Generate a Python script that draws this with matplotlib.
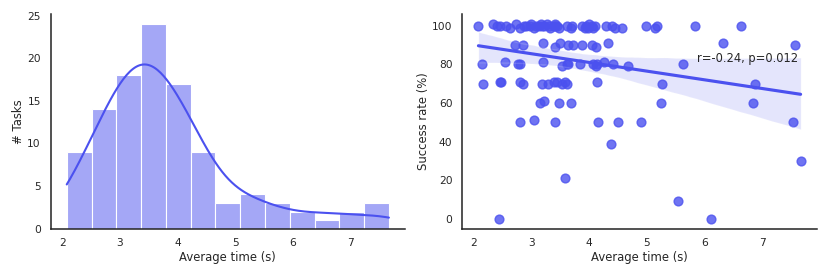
import matplotlib
matplotlib.use("Agg")
import matplotlib.pyplot as plt
import numpy as np
import seaborn as sns

# ---- data ----
top_times = [2.08, 2.33, 2.40, 2.45,
             2.55, 2.62, 2.73, 2.80, 2.87, 2.91,
             2.97, 3.00, 3.05, 3.08, 3.13, 3.17, 3.19, 3.22, 3.27, 3.30, 3.33,
             3.39, 3.40, 3.41, 3.45, 3.47, 3.62, 3.68, 3.70,
             3.87, 3.93, 3.95, 3.98, 4.00, 4.05, 4.07, 4.10,
             4.30, 4.40, 4.45, 4.57,
             4.99, 5.15, 5.18, 5.83, 6.64]
top_success = [100, 101, 100, 100,
               100, 99, 101, 99, 100, 100,
               100, 101, 99, 100, 100, 101, 100, 100, 101, 100, 99,
               100, 101, 100, 100, 99, 100, 99, 100,
               100, 99, 100, 99, 101, 100, 99, 100,
               100, 100, 99, 99,
               100, 99, 100, 100, 100]

row90_times = [2.71, 2.85, 3.20, 3.41, 3.50, 3.63, 3.72, 3.87, 4.05, 4.12, 4.33, 6.33, 7.58]
row90_success = [90, 90, 91, 89, 91, 90, 90, 90, 90, 89, 91, 91, 90]

row80_times = [2.14, 2.54, 2.77, 2.80, 3.20, 3.53, 3.62, 3.64, 3.84, 4.07, 4.12, 4.14, 4.26, 4.42, 4.68, 5.63]
row80_success = [80, 81, 80, 80, 81, 79, 80, 80, 80, 80, 79, 80, 81, 80, 79, 80]

row70_times = [2.16, 2.45, 2.48, 2.80, 2.85, 3.18, 3.29, 3.39, 3.44, 3.53, 3.58, 3.62, 4.14, 5.27, 6.87]
row70_success = [70, 71, 71, 71, 70, 70, 70, 71, 71, 70, 71, 70, 71, 70, 70]

row60_times = [3.15, 3.22, 3.48, 3.69, 5.25, 6.84]
row60_success = [60, 61, 60, 60, 60, 60]

row50_times = [2.80, 3.04, 3.41, 4.16, 4.50, 4.90, 7.53]
row50_success = [50, 51, 50, 50, 50, 50, 50]

other_times = [4.38, 3.58, 2.43, 5.55, 6.12, 7.67]
other_success = [39, 21, 0, 9, 0, 30]

times = np.array(top_times + row90_times + row80_times + row70_times
                 + row60_times + row50_times + other_times)
success = np.array(top_success + row90_success + row80_success + row70_success
                   + row60_success + row50_success + other_success)

annotation = "r=-0.24, p=0.012"
BASE = "#4b51ef"

# ---- plot ----
sns.set_style("white")
plt.rcParams["font.family"] = ["DejaVu Sans"]
plt.rcParams["font.size"] = 8.4
plt.rcParams["axes.labelsize"] = 8.4
plt.rcParams["xtick.labelsize"] = 7.7
plt.rcParams["ytick.labelsize"] = 7.7

fig = plt.figure(figsize=(8.3, 2.77), dpi=100)
ax1 = fig.add_axes([0.061, 0.175, 0.427, 0.774])
ax2 = fig.add_axes([0.557, 0.175, 0.427, 0.774])

sns.histplot(x=times, bins=13, kde=True, color=BASE, alpha=0.5,
             edgecolor="white", linewidth=0.8, ax=ax1)
ax1.set_xlabel("Average time (s)", labelpad=2)
ax1.set_ylabel("# Tasks", labelpad=1.5)

sns.regplot(x=times, y=success, color=BASE, ax=ax2, seed=0,
            scatter_kws=dict(s=40))
ax2.set_xlabel("Average time (s)", labelpad=2)
ax2.set_ylabel("Success rate (%)", labelpad=1.5)
ax2.set_yticks([0, 20, 40, 60, 80, 100])
ax2.text(5.87, 83.3, annotation, va="center", ha="left", fontsize=8.3)

for ax in (ax1, ax2):
    ax.set_xticks([2, 3, 4, 5, 6, 7])
    sns.despine(ax=ax)
    for s in ("left", "bottom"):
        ax.spines[s].set_color("#222222")
        ax.spines[s].set_linewidth(1.1)

fig.savefig("out.png", dpi=100)
